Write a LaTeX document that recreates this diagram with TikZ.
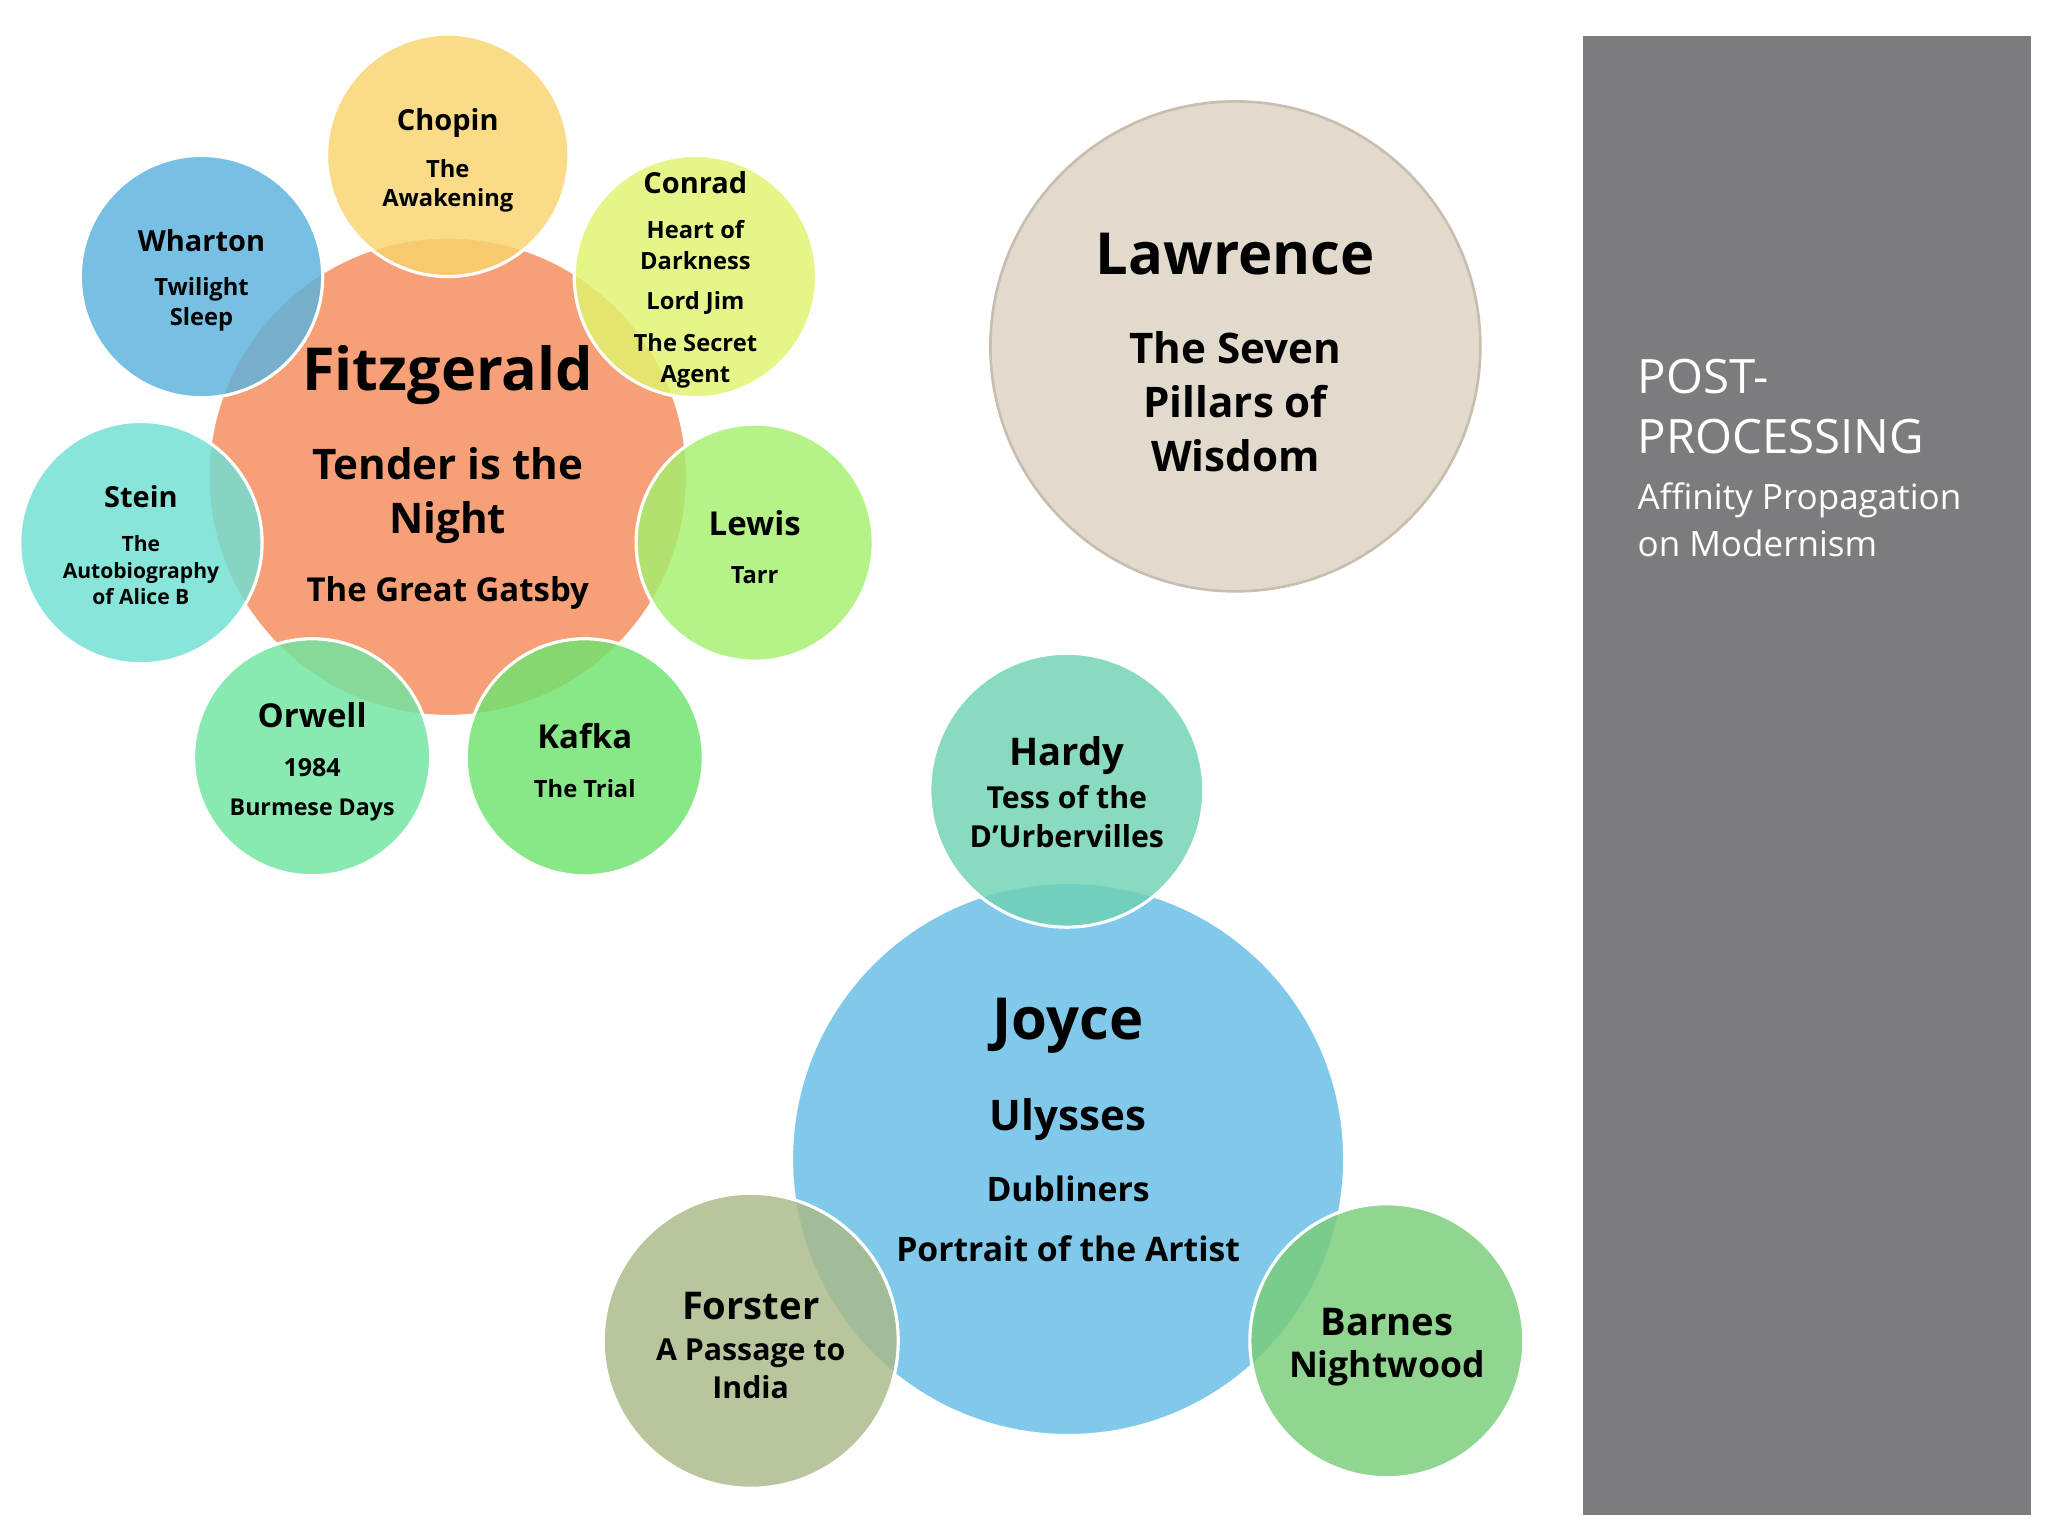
\documentclass[tikz,border=0pt]{standalone}
\usepackage{fontspec}
\setmainfont{Open Sans}
\definecolor{cpanel}{RGB}{124,124,126}
\definecolor{cfz}{RGB}{247,160,120}
\definecolor{cch}{RGB}{249,212,110}
\definecolor{cco}{RGB}{226,243,110}
\definecolor{cwh}{RGB}{90,178,222}
\definecolor{cst}{RGB}{110,224,210}
\definecolor{cle}{RGB}{165,240,110}
\definecolor{cor}{RGB}{110,230,160}
\definecolor{cka}{RGB}{110,228,110}
\definecolor{cla}{RGB}{227,218,206}
\definecolor{claB}{RGB}{200,190,175}
\definecolor{cjo}{RGB}{128,201,234}
\definecolor{cha}{RGB}{110,210,180}
\definecolor{cfo}{RGB}{170,185,135}
\definecolor{cba}{RGB}{120,205,120}
\begin{document}
\begin{tikzpicture}[x=0.5pt,y=-0.5pt,
  bub/.style={fill=#1,draw=white,line width=1.2pt,fill opacity=0.82},
  t/.style={align=center,text=black,inner sep=0pt}]
\fill[white] (0,0) rectangle (1555,1166);
\useasboundingbox (0,0) rectangle (1555,1166);
% panel
\fill[cpanel] (1202,27) rectangle (1542,1150);
\node[anchor=north west,align=left,text=white,inner sep=0pt,font=\fontsize{18}{23}\selectfont] (pp) at (1243,272) {POST-\\PROCESSING};
\node[anchor=north west,align=left,text=white,inner sep=0pt,font=\fontsize{13.3}{18}\selectfont] (ap) at (1243,366) {Affinity Propagation\\on Modernism};
% Fitzgerald cluster
\path[bub=cfz,fill opacity=1] (340,362) circle (182);
\path[bub=cch] (340,118) circle (92);
\path[bub=cco] (528,210) circle (92);
\path[bub=cwh] (153,210) circle (92);
\path[bub=cst] (107,412) circle (92);
\path[bub=cle] (573,412) circle (90);
\path[bub=cor] (237,575) circle (90);
\path[bub=cka] (444,575) circle (90);
\node[t,font=\bfseries\fontsize{22.5}{27}\selectfont] (fz) at (340,285) {Fitzgerald};
\node[t,font=\bfseries\fontsize{16}{20.5}\selectfont] (fz2) at (340,376) {Tender is the\\Night};
\node[t,font=\bfseries\fontsize{12.5}{15}\selectfont] (fz3) at (340,450) {The Great Gatsby};
\node[t,font=\bfseries\fontsize{11}{13}\selectfont] (ch) at (340,93) {Chopin};
\node[t,font=\bfseries\fontsize{9}{11}\selectfont] (ch2) at (340,141) {The\\Awakening};
\node[t,font=\bfseries\fontsize{11}{13}\selectfont] (co) at (528,139) {Conrad};
\node[t,font=\bfseries\fontsize{9}{11.5}\selectfont] (co2) at (528,186) {Heart of\\Darkness};
\node[t,font=\bfseries\fontsize{9}{11.5}\selectfont] (co3) at (528,230) {Lord Jim};
\node[t,font=\bfseries\fontsize{9}{11.5}\selectfont] (co4) at (528,274) {The Secret\\Agent};
\node[t,font=\bfseries\fontsize{11}{13}\selectfont] (wh) at (153,183) {Wharton};
\node[t,font=\bfseries\fontsize{9}{11.5}\selectfont] (wh2) at (153,231) {Twilight\\Sleep};
\node[t,font=\bfseries\fontsize{11}{13}\selectfont] (st) at (107,377) {Stein};
\node[t,font=\bfseries\fontsize{8}{10}\selectfont] (st2) at (107,433) {The\\Autobiography\\of Alice B};
\node[t,font=\bfseries\fontsize{12.5}{15}\selectfont] (le) at (573,397) {Lewis};
\node[t,font=\bfseries\fontsize{9}{11.5}\selectfont] (le2) at (573,437) {Tarr};
\node[t,font=\bfseries\fontsize{12.5}{15}\selectfont] (or) at (237,543) {Orwell};
\node[t,font=\bfseries\fontsize{9.5}{12}\selectfont] (or2) at (237,583) {1984};
\node[t,font=\bfseries\fontsize{8.8}{11}\selectfont] (or3) at (237,615) {Burmese Days};
\node[t,font=\bfseries\fontsize{12.5}{15}\selectfont] (ka) at (444,559) {Kafka};
\node[t,font=\bfseries\fontsize{9}{11.5}\selectfont] (ka2) at (444,599) {The Trial};
% Lawrence
\path[fill=cla,draw=claB,line width=1pt] (938,263) circle (186);
\node[t,font=\bfseries\fontsize{22}{27}\selectfont] (la) at (938,193) {Lawrence};
\node[t,font=\bfseries\fontsize{16}{20.5}\selectfont] (la2) at (938,305) {The Seven\\Pillars of\\Wisdom};
% Joyce cluster
\path[bub=cjo,fill opacity=1] (811,880) circle (210);
\path[bub=cha] (810,600) circle (104);
\path[bub=cfo] (570,1018) circle (112);
\path[bub=cba] (1053,1018) circle (104);
\node[t,font=\bfseries\fontsize{22}{27}\selectfont] (jo) at (811,779) {Joyce};
\node[t,font=\bfseries\fontsize{16}{20}\selectfont] (jo2) at (811,850) {Ulysses};
\node[t,font=\bfseries\fontsize{12.8}{16}\selectfont] (jo3) at (811,903) {Dubliners};
\node[t,font=\bfseries\fontsize{12.8}{16}\selectfont] (jo4) at (811,948) {Portrait of the Artist};
\node[t,font=\bfseries\fontsize{14.5}{18}\selectfont] (ha) at (810,574) {Hardy};
\node[t,font=\bfseries\fontsize{11.5}{14.5}\selectfont] (ha2) at (810,620) {Tess of the\\D’Urbervilles};
\node[t,font=\bfseries\fontsize{14.5}{18}\selectfont] (fo) at (570,992) {Forster};
\node[t,font=\bfseries\fontsize{11.5}{14.5}\selectfont] (fo2) at (570,1039) {A Passage to\\India};
\node[t,font=\bfseries\fontsize{14.5}{18}\selectfont] (ba) at (1053,1004) {Barnes};
\node[t,font=\bfseries\fontsize{13.5}{17}\selectfont] (ba2) at (1053,1039) {Nightwood};
\end{tikzpicture}
\end{document}
